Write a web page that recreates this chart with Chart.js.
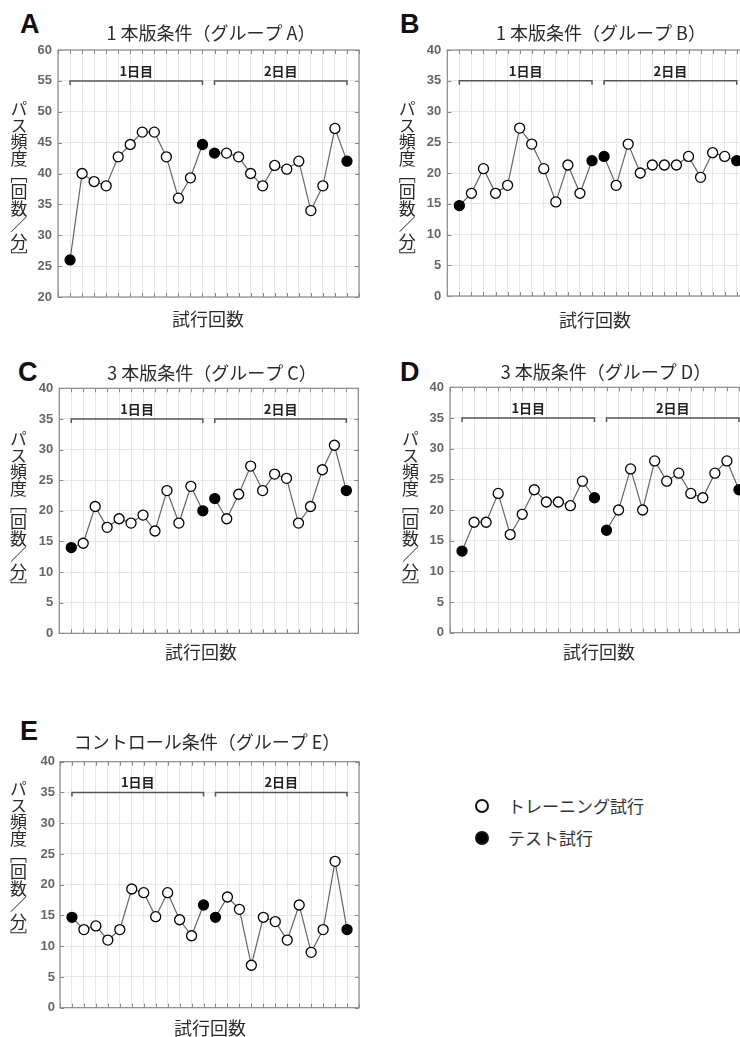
<!DOCTYPE html>
<html><head><meta charset="utf-8">
<script src="https://cdn.jsdelivr.net/npm/chart.js@4.4.1/dist/chart.umd.min.js"></script>
<style>
html,body{margin:0;padding:0;background:#fff;width:740px;height:1037px;overflow:hidden;position:relative}
canvas{position:absolute}
.letter{position:absolute;font:bold 27px 'Liberation Sans',Arial,sans-serif;line-height:27px;color:#111}
.leg{position:absolute;font:17px 'Noto Sans CJK JP';color:#333;line-height:20px;white-space:nowrap}
.dot{position:absolute;width:10px;height:10px;border:2px solid #111;border-radius:50%;background:#fff}
.ytitle{position:absolute;writing-mode:vertical-rl;font:17px 'Noto Sans CJK JP';line-height:20px;width:20px;color:#2a2a2a;letter-spacing:-0.4px;white-space:nowrap}
</style></head><body>
<div class="letter" style="left:20px;top:11px">A</div>
<div class="letter" style="left:400px;top:11px">B</div>
<div class="letter" style="left:18px;top:359px">C</div>
<div class="letter" style="left:400px;top:359px">D</div>
<div class="letter" style="left:20px;top:718px">E</div>
<div class="dot" style="left:475px;top:799px"></div>
<div class="leg" style="left:508px;top:796px">トレーニング試行</div>
<div class="dot" style="left:475px;top:831px;background:#000"></div>
<div class="leg" style="left:508px;top:828px">テスト試行</div>
<script>
// ---- data ----
const trialNumbers = [1,2,3,4,5,6,7,8,9,10,11,12,13,14,15,16,17,18,19,20,21,22,23,24];
const testTrials = [1, 12, 13, 24];
const dayRanges = [[1, 12], [13, 24]];
const dayLabels = ['1日目', '2日目'];
const titles = ['1 本版条件（グループ A）', '1 本版条件（グループ B）', '3 本版条件（グループ C）', '3 本版条件（グループ D）', 'コントロール条件（グループ E）'];
const yTitle = 'パス頻度［回数／分］';
const xTitle = '試行回数';
const yRanges = [[20, 60], [0, 40], [0, 40], [0, 40], [0, 40]];
const bracketLevels = [55, 35, 35, 35, 35];
const groupA = [26.0, 40.0, 38.7, 38.0, 42.7, 44.7, 46.7, 46.7, 42.7, 36.0, 39.3, 44.7, 43.3, 43.3, 42.7, 40.0, 38.0, 41.3, 40.7, 42.0, 34.0, 38.0, 47.3, 42.0];
const groupB = [14.7, 16.7, 20.7, 16.7, 18.0, 27.3, 24.7, 20.7, 15.3, 21.3, 16.7, 22.0, 22.7, 18.0, 24.7, 20.0, 21.3, 21.3, 21.3, 22.7, 19.3, 23.3, 22.7, 22.0];
const groupC = [14.0, 14.7, 20.7, 17.3, 18.7, 18.0, 19.3, 16.7, 23.3, 18.0, 24.0, 20.0, 22.0, 18.7, 22.7, 27.3, 23.3, 26.0, 25.3, 18.0, 20.7, 26.7, 30.7, 23.3];
const groupD = [13.3, 18.0, 18.0, 22.7, 16.0, 19.3, 23.3, 21.3, 21.3, 20.7, 24.7, 22.0, 16.7, 20.0, 26.7, 20.0, 28.0, 24.7, 26.0, 22.7, 22.0, 26.0, 28.0, 23.3];
const groupE = [14.7, 12.7, 13.3, 11.0, 12.7, 19.3, 18.7, 14.8, 18.7, 14.3, 11.7, 16.7, 14.7, 18.0, 16.0, 6.9, 14.7, 14.0, 11.0, 16.7, 9.0, 12.7, 23.8, 12.7];
const groups = [groupA, groupB, groupC, groupD, groupE];

// ---- layout (canvas box, chart area, text anchors; canvas-relative) ----
const panels = [
  {x:0,   y:0,   w:370, h:335, l:58,   r:359,   t:50,   b:297,   tp:6, tx:211, ty:33,   xx:208, xy:319,   yx:18.5, yt:100},
  {x:370, y:0,   w:390, h:335, l:77.3, r:378.8, t:50,   b:296,   tp:6, tx:231, ty:33,   xx:225, xy:320,   yx:36.7, yt:100},
  {x:0,   y:330, w:370, h:335, l:59.3, r:358.3, t:58.3, b:303.3, tp:6, tx:212, ty:43.3, xx:201, xy:321.7, yx:18,   yt:100},
  {x:370, y:330, w:390, h:335, l:80,   r:381,   t:57.3, b:302.7, tp:6, tx:236, ty:41.7, xx:229, xy:321.7, yx:40,   yt:100},
  {x:0,   y:680, w:370, h:357, l:60,   r:359,   t:81.7, b:327.7, tp:5, tx:207, ty:61.7, xx:210, xy:348,   yx:18,   yt:100}
];

const deco = {
  id: 'deco',
  afterDatasetsDraw(chart, args, o) {
    const ctx = chart.ctx, a = chart.chartArea, xs = chart.scales.x, ys = chart.scales.y;
    ctx.save();
    // inner ticks
    ctx.strokeStyle = '#888'; ctx.lineWidth = 1;
    ctx.beginPath();
    xs.ticks.forEach(tk => {
      const px = Math.round(xs.getPixelForValue(tk.value)) + 0.5;
      ctx.moveTo(px, a.bottom); ctx.lineTo(px, a.bottom - 4);
      ctx.moveTo(px, a.top); ctx.lineTo(px, a.top + 4);
    });
    ys.ticks.forEach(tk => {
      const py = Math.round(ys.getPixelForValue(tk.value)) + 0.5;
      ctx.moveTo(a.left, py); ctx.lineTo(a.left + 4, py);
      ctx.moveTo(a.right, py); ctx.lineTo(a.right - 4, py);
    });
    ctx.stroke();
    // border box
    ctx.strokeStyle = '#8a8a8a'; ctx.lineWidth = 1.2;
    ctx.strokeRect(a.left, a.top, a.right - a.left, a.bottom - a.top);
    // day brackets
    ctx.strokeStyle = '#555'; ctx.lineWidth = 1.5;
    ctx.fillStyle = '#222';
    ctx.font = "bold 13px 'Noto Sans CJK JP'";
    ctx.textAlign = 'center'; ctx.textBaseline = 'middle';
    dayRanges.forEach((rg, i) => {
      const x0 = xs.getPixelForValue(rg[0]), x1 = xs.getPixelForValue(rg[1]);
      const py = ys.getPixelForValue(o.bracket);
      ctx.beginPath();
      ctx.moveTo(x0, py + 4); ctx.lineTo(x0, py); ctx.lineTo(x1, py); ctx.lineTo(x1, py + 4);
      ctx.stroke();
      ctx.fillText(dayLabels[i], (x0 + x1) / 2, py - 10);
    });
    // titles
    const p = o.p;
    ctx.fillStyle = '#2a2a2a';
    ctx.font = "18px 'Noto Sans CJK JP'";
    ctx.fillText(o.title, p.tx, p.ty);
    ctx.fillText(xTitle, p.xx, p.xy);
    ctx.restore();
  }
};
Chart.register(deco);

panels.forEach((p, k) => {
  const cv = document.createElement('canvas');
  cv.width = p.w; cv.height = p.h;
  cv.style.left = p.x + 'px'; cv.style.top = p.y + 'px';
  document.body.appendChild(cv);
  const yt = document.createElement('div');
  yt.className = 'ytitle';
  yt.textContent = yTitle;
  yt.style.left = (p.x + p.yx - 10) + 'px';
  yt.style.top = (p.y + p.yt) + 'px';
  document.body.appendChild(yt);
  const vals = groups[k];
  const axisW = p.l - 30;
  new Chart(cv, {
    type: 'scatter',
    data: {datasets: [{
      data: trialNumbers.map((t, i) => ({x: t, y: vals[i]})),
      showLine: true, borderColor: '#666', borderWidth: 1.2,
      pointRadius: 5, pointHoverRadius: 5, pointBorderWidth: 1.3, pointBorderColor: '#000',
      pointBackgroundColor: trialNumbers.map(t => testTrials.includes(t) ? '#000' : '#fff'),
      segment: {borderColor: c => c.p0.parsed.x === dayRanges[0][1] ? 'rgba(0,0,0,0)' : '#666'}
    }]},
    options: {
      responsive: false, animation: false, devicePixelRatio: 1,
      layout: {padding: {left: 30, top: p.t, right: p.w - p.r, bottom: p.h - p.b}},
      plugins: {legend: {display: false}, tooltip: {enabled: false}, title: {display: false},
        deco: {bracket: bracketLevels[k], title: titles[k], p: p}},
      scales: {
        x: {type: 'linear', min: 0, max: 25, ticks: {stepSize: 1, display: false},
            grid: {color: '#e6e6e6', drawTicks: false}, border: {display: false},
            afterFit(s) { s.height = 0; }},
        y: {min: yRanges[k][0], max: yRanges[k][1],
            ticks: {stepSize: 5, color: '#666', padding: p.tp, font: {family: "'Liberation Sans', Arial", size: 13, weight: 'bold'}},
            grid: {color: '#e6e6e6', drawTicks: false}, border: {display: false},
            afterFit(s) { s.width = axisW; }}
      }
    }
  });
});
</script>
</body></html>
